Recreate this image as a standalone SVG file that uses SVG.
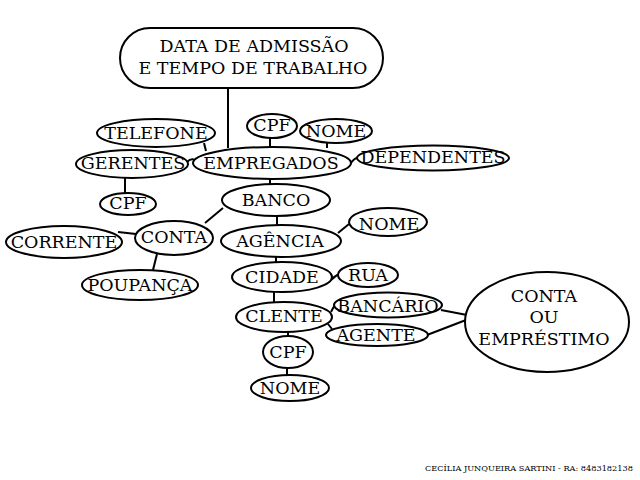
<svg xmlns="http://www.w3.org/2000/svg" width="640" height="480" viewBox="0 0 640 480">
<style>
.n{fill:#fff;stroke:#000;stroke-width:2}
.t{font-family:"DejaVu Serif","Liberation Serif",serif;font-size:17.5px;fill:#000;text-anchor:middle}
.c{stroke:#000;stroke-width:2;fill:none}
.f{font-family:"DejaVu Serif","Liberation Serif",serif;font-size:8.2px;fill:#000}
</style>
<rect width="640" height="480" fill="#fff"/>
<g id="connectors">
<line class="c" x1="228" y1="88" x2="228" y2="148"/>
<line class="c" x1="204" y1="143" x2="206" y2="151"/>
<path class="c" d="M187,162 Q191,158 195,160"/>
<line class="c" x1="270" y1="137" x2="270" y2="147"/>
<line class="c" x1="327" y1="142" x2="327" y2="148"/>
<path class="c" d="M350,164 Q356,156 360,158"/>
<line class="c" x1="270" y1="177" x2="270" y2="185"/>
<line class="c" x1="125" y1="177" x2="125" y2="193"/>
<line class="c" x1="223" y1="208" x2="205" y2="223"/>
<line class="c" x1="118" y1="232" x2="136" y2="234"/>
<line class="c" x1="157" y1="254" x2="153" y2="270"/>
<line class="c" x1="277" y1="215" x2="277" y2="226"/>
<line class="c" x1="338" y1="233" x2="349" y2="224"/>
<line class="c" x1="276" y1="256" x2="276" y2="263"/>
<path class="c" d="M331,280 Q335,276 339,274"/>
<line class="c" x1="274" y1="291" x2="274" y2="302"/>
<path class="c" d="M331,312 Q334,306 336,304"/>
<line class="c" x1="328" y1="324" x2="332" y2="329"/>
<line class="c" x1="441" y1="310" x2="467" y2="315"/>
<line class="c" x1="427" y1="335" x2="466" y2="320"/>
<line class="c" x1="288" y1="331" x2="288" y2="337"/>
<line class="c" x1="287" y1="367" x2="287" y2="376"/>
</g>
<g id="titulo"><rect class="n" x="120" y="28" width="263" height="60" rx="30"/><text class="t" x="254" y="52">DATA DE ADMISSÃO</text><text class="t" x="253" y="74">E TEMPO DE TRABALHO</text></g>
<g id="telefone"><ellipse class="n" cx="156" cy="133" rx="59" ry="14"/><text class="t" x="156" y="139">TELEFONE</text></g>
<g id="cpf1"><ellipse class="n" cx="272" cy="126" rx="25" ry="12"/><text class="t" x="272" y="131">CPF</text></g>
<g id="nome1"><ellipse class="n" cx="336" cy="131" rx="36" ry="12"/><text class="t" x="336" y="137">NOME</text></g>
<g id="gerentes"><ellipse class="n" cx="132" cy="164" rx="56" ry="14"/><text class="t" x="133" y="169">GERENTES</text></g>
<g id="empregados"><ellipse class="n" cx="272" cy="163" rx="79" ry="16"/><text class="t" x="271" y="169">EMPREGADOS</text></g>
<g id="dependentes"><ellipse class="n" cx="433" cy="158" rx="76" ry="12.5"/><text class="t" x="433" y="163">DEPENDENTES</text></g>
<g id="cpf2"><ellipse class="n" cx="128" cy="204" rx="28" ry="11"/><text class="t" x="128" y="209">CPF</text></g>
<g id="banco"><ellipse class="n" cx="276" cy="200" rx="54" ry="16"/><text class="t" x="276" y="206">BANCO</text></g>
<g id="conta"><ellipse class="n" cx="174" cy="238" rx="39" ry="17"/><text class="t" x="174" y="243">CONTA</text></g>
<g id="corrente"><ellipse class="n" cx="64" cy="242" rx="58" ry="16"/><text class="t" x="64" y="248">CORRENTE</text></g>
<g id="poupanca"><ellipse class="n" cx="140" cy="285" rx="58" ry="15"/><text class="t" x="140" y="291">POUPANÇA</text></g>
<g id="agencia"><ellipse class="n" cx="281" cy="241" rx="60" ry="16"/><text class="t" x="280" y="247">AGÊNCIA</text></g>
<g id="nome2"><ellipse class="n" cx="388" cy="222" rx="39" ry="14"/><text class="t" x="389" y="230">NOME</text></g>
<g id="cidade"><ellipse class="n" cx="282" cy="277" rx="50" ry="15"/><text class="t" x="282" y="283">CIDADE</text></g>
<g id="rua"><ellipse class="n" cx="368" cy="275" rx="30" ry="12"/><text class="t" x="368" y="281">RUA</text></g>
<g id="clente"><ellipse class="n" cx="284" cy="317" rx="48" ry="15"/><text class="t" x="284" y="322">CLENTE</text></g>
<g id="bancario"><ellipse class="n" cx="388" cy="305" rx="54" ry="12.5"/><text class="t" x="388" y="312">BANCÁRIO</text></g>
<g id="agente"><ellipse class="n" cx="377" cy="335" rx="51" ry="11"/><text class="t" x="376" y="341">AGENTE</text></g>
<g id="contaouemprestimo"><ellipse class="n" cx="547" cy="322" rx="82" ry="50"/><text class="t" x="544" y="302">CONTA</text><text class="t" x="544" y="323">OU</text><text class="t" x="544" y="345">EMPRÉSTIMO</text></g>
<g id="cpf3"><ellipse class="n" cx="288" cy="352" rx="25" ry="16"/><text class="t" x="288" y="358">CPF</text></g>
<g id="nome3"><ellipse class="n" cx="290" cy="388" rx="39" ry="13"/><text class="t" x="290" y="394">NOME</text></g>
<text class="f" x="425" y="471">CECÍLIA JUNQUEIRA SARTINI - RA: 8483182138</text>
</svg>
